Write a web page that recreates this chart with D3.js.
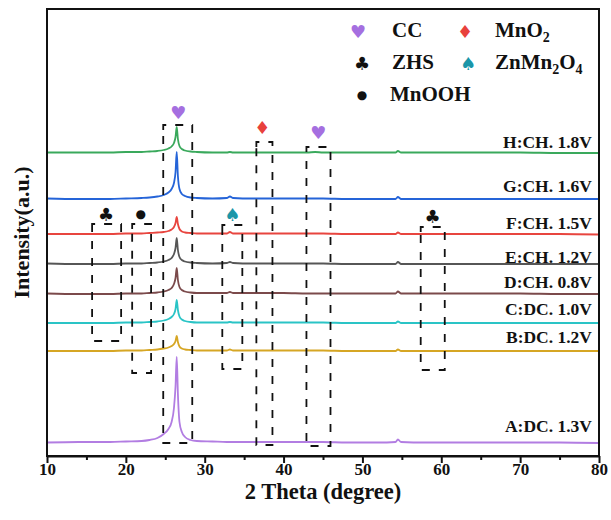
<!DOCTYPE html>
<html>
<head>
<meta charset="utf-8">
<script src="https://cdn.jsdelivr.net/npm/d3@7"></script>
<style>
    body { margin: 0; background: #fff; }
    text { font-family: 'Liberation Serif', 'Times New Roman', serif; font-weight: bold; fill: #111; }
</style>
</head>
<body>
<div id="chart"></div>
<script>
// 2 theta grid shared by all patterns
const twoTheta = [10, 14, 18, 20, 22, 23, 24, 24.8, 25.4, 25.8, 26.1, 26.3, 26.45, 26.6, 26.8,
    27.1, 27.5, 28.2, 29, 31, 32.8, 33.2, 33.6, 36, 40, 43, 44, 45, 48, 52, 54.2, 54.5, 54.9,
    58, 62, 66, 70, 75, 80]

const seriesLabels = ['A:DC. 1.3V', 'B:DC. 1.2V', 'C:DC. 1.0V', 'D:CH. 0.8V',
    'E:CH. 1.2V', 'F:CH. 1.5V', 'G:CH. 1.6V', 'H:CH. 1.8V']

// intensities (a.u., stacked with offsets as in the figure)
const intensityA = [13.5, 14, 14, 14.5, 15, 16, 18, 22, 27, 34, 48, 70, 99, 62, 34,
    24, 19, 16, 15, 14.5, 14, 14, 14, 14, 14, 14, 14, 14, 13.5, 13.5, 14, 16.5, 14,
    13.5, 13.5, 13.5, 13.5, 13.5, 13]
const intensityB = [105, 105, 105, 105.5, 105.5, 106, 106.5, 107.5, 108.5, 110, 112, 115, 120, 114, 109.5,
    107.5, 106.5, 106, 105.5, 105.5, 105.5, 106.5, 105.5, 105.5, 105.5, 105.5, 105.5, 105.5, 105, 105, 105, 106.5, 105,
    105, 105, 105, 105, 105, 105]
const intensityC = [133, 133, 133, 133.5, 133.5, 134, 134.5, 135.5, 137, 139, 142, 147, 156, 146, 139.5,
    136.5, 135, 134, 133.5, 133.5, 133.5, 134, 133.5, 133.5, 133.5, 133.5, 133.5, 133.5, 133, 133, 133, 134.5, 133,
    133, 133, 133, 133, 133, 133]
const intensityD = [162.5, 162, 162, 162.5, 162.5, 163, 163.5, 164.5, 166, 168, 172, 178, 188, 176, 169,
    166, 164.5, 163.5, 163, 163, 163, 164, 163, 163, 163, 162.5, 162.5, 162.5, 162.5, 162.5, 162.5, 164.5, 162.5,
    162.5, 162.5, 162.5, 162.5, 162, 162]
const intensityE = [192.5, 192, 192, 192.5, 192.5, 193, 193.5, 194.5, 196, 198, 202, 208, 218, 206, 199,
    196, 194.5, 193.5, 193, 192.5, 193, 194, 193, 192.5, 192.5, 192.5, 192.5, 192.5, 192, 192, 192, 194, 192,
    192, 192, 192, 192, 192, 192]
const intensityF = [222, 222, 222, 222.5, 222.5, 223, 223.5, 224, 225, 226.5, 229, 233, 239, 232, 227,
    224.5, 223.5, 223, 222.5, 222.5, 222.5, 224, 222.5, 222.5, 222.5, 222.5, 222.5, 222.5, 222, 222, 222, 223.5, 222,
    222, 222, 222, 222, 222, 221.5]
const intensityG = [257.5, 257, 257, 257.5, 258, 258.5, 259.5, 261, 263.5, 267, 273, 284, 304, 280, 267,
    262, 260, 258.5, 258, 257.5, 258, 259.5, 258, 257.5, 257.5, 257.5, 257.5, 257.5, 257, 257, 257, 259, 257,
    257, 257, 257, 257, 257, 257]
const intensityH = [303.5, 303.5, 303.5, 304, 304, 304.5, 305, 306, 307.5, 309.5, 313, 319, 329, 317, 310,
    307, 305.5, 304.5, 304, 303.5, 303.5, 304, 303.5, 303.5, 303.5, 303.5, 304, 303.5, 303.5, 303.5, 303.5, 305, 303.5,
    303.5, 303.5, 303.5, 303.5, 303, 303]

// phase annotations: 2theta ranges of the dashed boxes and marker positions
const boxLeft = [24.74, 36.55, 42.9, 32.23, 15.72, 20.8, 57.39]
const boxRight = [28.42, 38.59, 45.95, 34.77, 19.4, 23.2, 60.44]
const boxTop = [331, 314, 309, 231, 232, 232, 229]
const boxBottom = [13, 11, 10, 87, 115, 83, 86]

const markerPhase = ['CC', 'MnO2', 'CC', 'ZHS', 'MnOOH', 'ZnMn2O4', 'ZHS']
const markerTheta = [26.65, 37.3, 44.4, 17.5, 21.9, 33.5, 58.9]
const markerLevel = [344, 329, 324, 242, 242, 242, 240]

const xTicks = [10, 20, 30, 40, 50, 60, 70, 80]
const xMinorTicks = [15, 25, 35, 45, 55, 65, 75]

const colors = ['#b27de2', '#d6a624', '#2ac4c6', '#7b4a4b', '#565656', '#e8453f', '#2564d8', '#3aa95c']
const labelLift = [11, 8, 8, 6, 1, 6, 7, 5]
const glyphs = {
    CC: { ch: '\u2665', color: '#a56fe0' },
    MnO2: { ch: '\u2666', color: '#e8413c' },
    ZHS: { ch: '\u2663', color: '#111' },
    ZnMn2O4: { ch: '\u2660', color: '#1b96a8' },
    MnOOH: { ch: '\u25CF', color: '#111' }
}

const allSeries = [intensityA, intensityB, intensityC, intensityD, intensityE, intensityF, intensityG, intensityH]
    .map((vals, i) => ({ name: seriesLabels[i], points: vals.map((v, j) => [twoTheta[j], v]) }))

const width = 611
const height = 520
const margin = { top: 9, right: 12, bottom: 64, left: 47 }

const svg = d3.select('#chart').append('svg')
    .attr('width', width)
    .attr('height', height)

const x = d3.scaleLinear().domain([10, 80]).range([margin.left, width - margin.right])
const y = d3.scaleLinear().domain([0, 447]).range([height - margin.bottom, margin.top])

// curves
const line = d3.line()
    .x(d => x(d[0]))
    .y(d => y(d[1]))
    .curve(d3.curveMonotoneX)

svg.append('g').selectAll('path')
    .data(allSeries)
    .enter()
    .append('path')
    .attr('d', d => line(d.points))
    .attr('fill', 'none')
    .attr('stroke', (d, i) => colors[i])
    .attr('stroke-width', 1.8)

// dashed boxes
svg.append('g').selectAll('path')
    .data(boxLeft.map((l, i) => ({ l, r: boxRight[i], t: boxTop[i], b: boxBottom[i] })))
    .enter()
    .append('path')
    .attr('d', d => {
        const x0 = x(d.l), x1 = x(d.r), y0 = y(d.t), y1 = y(d.b)
        return `M${x0},${y0 + 5}V${y0}H${x1}V${y1}H${x0}Z`
    })
    .attr('fill', 'none')
    .attr('stroke', '#111')
    .attr('stroke-width', 1.8)
    .attr('stroke-dasharray', '8,9')

// phase markers
svg.append('g').selectAll('text')
    .data(markerPhase.map((p, i) => ({ p, t: markerTheta[i], v: markerLevel[i] })))
    .enter()
    .append('text')
    .text(d => glyphs[d.p].ch)
    .attr('x', d => x(d.t))
    .attr('y', d => y(d.v))
    .attr('text-anchor', 'middle')
    .attr('dominant-baseline', 'central')
    .style('font-family', 'DejaVu Sans')
    .style('font-size', d => d.p === 'MnOOH' ? '12px' : '18px')
    .style('fill', d => glyphs[d.p].color)

// curve labels
svg.append('g').selectAll('text')
    .data(allSeries)
    .enter()
    .append('text')
    .text(d => d.name)
    .attr('x', 592)
    .attr('y', (d, i) => y(d.points[d.points.length - 1][1]) - labelLift[i])
    .attr('text-anchor', 'end')
    .style('font-size', '17.5px')

// frame and axis
svg.append('rect')
    .attr('x', margin.left)
    .attr('y', margin.top)
    .attr('width', width - margin.left - margin.right)
    .attr('height', height - margin.top - margin.bottom)
    .attr('fill', 'none')
    .attr('stroke', '#111')
    .attr('stroke-width', 2)

const xAxis = svg.append('g')
    .attr('transform', `translate(0, ${height - margin.bottom})`)
    .call(d3.axisBottom(x).tickValues(xTicks).tickSize(7).tickSizeOuter(0).tickPadding(0))
xAxis.select('.domain').attr('stroke-width', 2.2).attr('stroke', '#111')
xAxis.selectAll('.tick line').attr('stroke-width', 2).attr('stroke', '#111')
xAxis.selectAll('.tick text')
    .style('font-family', "'Liberation Serif', serif")
    .style('font-weight', 'bold')
    .style('font-size', '17px')
    .attr('fill', '#111')

const xMinor = svg.append('g')
    .attr('transform', `translate(0, ${height - margin.bottom})`)
    .call(d3.axisBottom(x).tickValues(xMinorTicks).tickSize(4).tickFormat(''))
xMinor.select('.domain').remove()
xMinor.selectAll('.tick line').attr('stroke-width', 2).attr('stroke', '#111')

svg.append('text')
    .text('2 Theta (degree)')
    .attr('x', (margin.left + width - margin.right) / 2)
    .attr('y', 499)
    .attr('text-anchor', 'middle')
    .style('font-size', '22.5px')

svg.append('text')
    .text('Intensity(a.u.)')
    .attr('transform', `translate(29, ${(margin.top + height - margin.bottom) / 2}) rotate(-90)`)
    .attr('text-anchor', 'middle')
    .style('font-size', '22px')

// legend
const legendItems = [
    { key: 'CC', lx: 358, tx: 392, ty: 37, parts: [['CC', false]] },
    { key: 'MnO2', lx: 465, tx: 495, ty: 37, parts: [['MnO', false], ['2', true]] },
    { key: 'ZHS', lx: 362, tx: 392, ty: 69, parts: [['ZHS', false]] },
    { key: 'ZnMn2O4', lx: 468, tx: 495, ty: 69, parts: [['ZnMn', false], ['2', true], ['O', false], ['4', true]] },
    { key: 'MnOOH', lx: 362, tx: 390, ty: 101, parts: [['MnOOH', false]] }
]

const legend = svg.append('g')
legendItems.forEach(item => {
    legend.append('text')
        .text(glyphs[item.key].ch)
        .attr('x', item.lx)
        .attr('y', item.ty - 6)
        .attr('text-anchor', 'middle')
        .attr('dominant-baseline', 'central')
        .style('font-family', 'DejaVu Sans')
        .style('font-size', item.key === 'MnOOH' ? '12px' : '18px')
        .style('fill', glyphs[item.key].color)

    const t = legend.append('text')
        .attr('x', item.tx)
        .attr('y', item.ty)
        .style('font-size', '21px')
    let shifted = false
    item.parts.forEach(([s, sub]) => {
        const span = t.append('tspan').text(s)
        if (sub && !shifted) { span.attr('dy', 5).style('font-size', '14px'); shifted = true }
        else if (!sub && shifted) { span.attr('dy', -5); shifted = false }
    })
})
</script>
</body>
</html>
